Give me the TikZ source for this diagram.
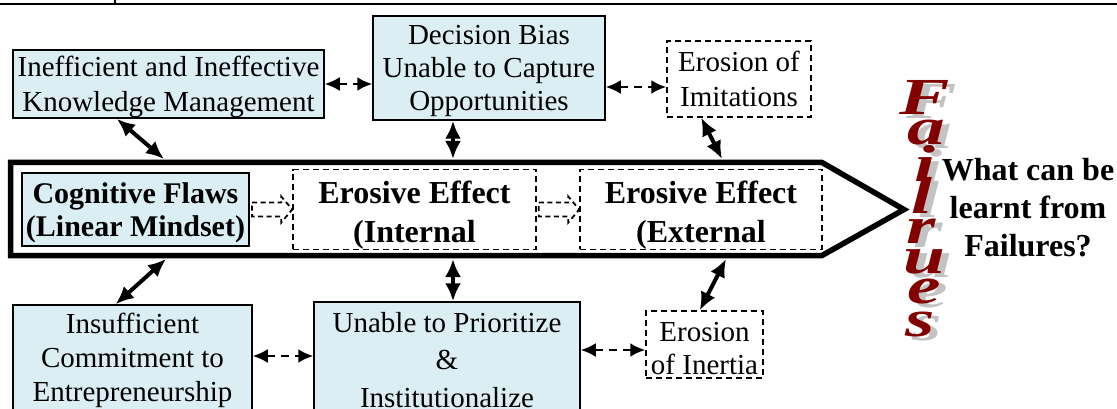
\documentclass[tikz,border=0pt]{standalone}
\usepackage{fontspec}
\setmainfont{Liberation Serif}
\usetikzlibrary{arrows.meta,calc}
\definecolor{boxblue}{RGB}{218,238,243}
\definecolor{failred}{RGB}{130,0,0}
\definecolor{shadowgray}{RGB}{195,195,195}
\newcommand{\fsA}{\fontsize{29}{35}\selectfont}
\newcommand{\fsB}{\fontsize{29}{33}\selectfont}
\newcommand{\fsC}{\fontsize{29}{37.5}\selectfont}
% lowers a centred multi-line text by #1 (extends the first line's height)
\newcommand{\dn}[1]{\rule{0pt}{\dimexpr 0.69em+#1*2\relax}}
\begin{document}
\begin{tikzpicture}[x=1pt,y=-1pt,
  bluebox/.style={draw, line width=1.5pt, fill=boxblue, inner sep=0pt, align=center},
  dbox/.style={draw, line width=1.5pt, dash pattern=on 6pt off 4pt, inner sep=0pt, align=center},
  biarrow/.style={{Latex[length=18pt,width=16pt]}-{Latex[length=18pt,width=16pt]}, line width=4pt},
  dbiarrow/.style={{Latex[length=15pt,width=14pt]}-{Latex[length=15pt,width=14pt]}, line width=2.5pt, dash pattern=on 8pt off 6pt},
  hollow/.style={line width=1.8pt, dash pattern=on 5pt off 3.5pt, line join=miter},
  letter/.style={inner sep=0pt, font=\fontsize{52}{52}\selectfont\bfseries\itshape},
]
\useasboundingbox (0,0) rectangle (1117,409);
\clip (0,0) rectangle (1117,409);

% top rule of the page
\draw[line width=2pt] (0,4) -- (1117,4);
\draw[line width=1.5pt] (115,0) -- (115,4);

% big block arrow
\draw[line width=5.5pt, line join=miter] (10.5,162.5) -- (822,162.5) -- (904,209.5) -- (822,255.5) -- (10.5,255.5) -- cycle;
\coordinate (t1) at (164,159);
\coordinate (t2) at (453,159);
\coordinate (t3) at (722,159);
\coordinate (b1) at (166,259);
\coordinate (b2) at (453,259);
\coordinate (b3) at (726,259);

% top boxes
\node[bluebox, font=\fsA, minimum width=311pt, minimum height=66pt] (A) at (168.5,84) {\dn{3.5pt}Inefficient and Ineffective\\Knowledge Management};
\node[bluebox, font=\fsB, minimum width=232pt, minimum height=104pt] (B) at (489,68) {\dn{3pt}Decision Bias\\Unable to Capture\\Opportunities};
\node[dbox, font=\fsA, minimum width=144pt, minimum height=76pt] (C) at (739,79) {Erosion of\\Imitations};

% inner boxes
\node[bluebox, line width=2pt, font=\fontsize{30}{33}\selectfont\bfseries, minimum width=227pt, minimum height=73pt] (CF) at (135.5,209.5) {\dn{3pt}Cognitive Flaws\\(Linear Mindset)};
\node[dbox, font=\fontsize{32}{39}\selectfont\bfseries, minimum width=243pt, minimum height=73pt] (IN) at (414.5,209.5) {\dn{6pt}Erosive Effect\\(Internal};
\node[dbox, font=\fontsize{32}{39}\selectfont\bfseries, minimum width=242pt, minimum height=73pt] (EX) at (701,209.5) {\dn{6pt}Erosive Effect\\(External};

% bottom boxes
\node[bluebox, font=\fontsize{29}{34}\selectfont, minimum width=239pt, minimum height=108pt] (D) at (132.5,359) {\dn{2pt}Insufficient\\Commitment to\\Entrepreneurship};
\node[bluebox, font=\fsC, minimum width=266pt, minimum height=116pt] (E) at (447,360) {Unable to Prioritize\\\&\\Institutionalize};
\node[dbox, font=\fsB, minimum width=117pt, minimum height=67pt] (G) at (704.5,344.5) {\dn{4pt}Erosion\\of Inertia};

% hollow dashed arrows
\draw[hollow] ($(CF.east)+(2,-7)$) -| ($(IN.west)+(-11,-13)$) -- (IN.west) -- ($(IN.west)+(-11,13)$) |- ($(CF.east)+(2,7)$) -- cycle;
\draw[hollow] ($(IN.east)+(2,-7)$) -| ($(EX.west)+(-11,-13)$) -- (EX.west) -- ($(EX.west)+(-11,13)$) |- ($(IN.east)+(2,7)$) -- cycle;

% solid connectors to the big arrow
\draw[biarrow] ($(A.south west)!0.335!(A.south east)$) -- (t1);
\draw[biarrow] (t2 |- B.south) -- (t2);
\draw[biarrow] ($(C.south west)!0.24!(C.south east)$) -- (t3);
\draw[biarrow] (b1) -- ($(D.north west)!0.43!(D.north east)$);
\draw[biarrow] (b2) -- (b2 |- E.north);
\draw[biarrow] (b3) -- ($(G.north west)!0.46!(G.north east)$);

% dashed connectors
\draw[dbiarrow] (A.east) -- (A.east -| B.west);
\coordinate (bc) at ($(C.west)+(0,8)$);
\draw[dbiarrow] (B.east |- bc) -- (bc);
\coordinate (de) at ($(D.east)+(0,-3)$);
\draw[dbiarrow] (de) -- (de -| E.west);
\coordinate (eg) at ($(G.west)+(0,5.5)$);
\draw[dbiarrow] (E.east |- eg) -- (eg);

% Failrues (vertical word art)
\foreach \ch/\x/\y [count=\i] in {F/925/97, a/926/133, i/925/163, l/922/195, r/921/231, u/924/262, e/924/292, s/920/325}{
  \node[letter, text=shadowgray] (sh\i) at (\x+7,\y+4) {\scalebox{1.45}[1]{\ch}};
  \node[letter, text=failred] (L\i) at (\x,\y) {\scalebox{1.45}[1]{\ch}};
}

% question
\node[align=center, inner sep=0pt, font=\fontsize{32}{38}\selectfont\bfseries] (Q) at (1028,208) {What can be\\learnt from\\Failures?};
\end{tikzpicture}
\end{document}
